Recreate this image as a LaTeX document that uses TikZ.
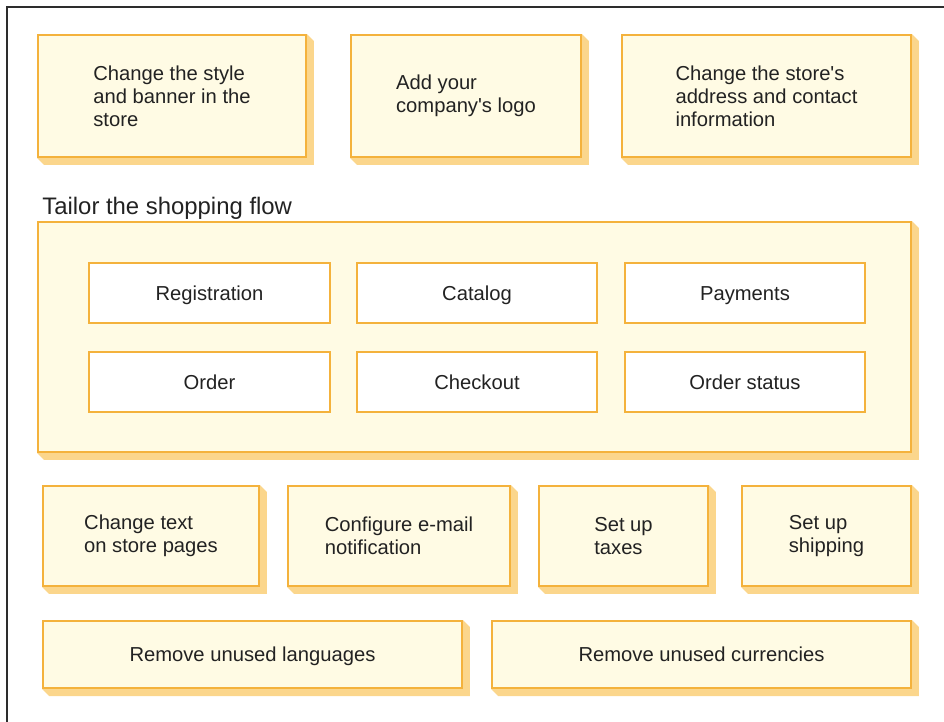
\documentclass[tikz,border=0pt]{standalone}
\usepackage{fontspec}
\setmainfont{Liberation Sans}
\usetikzlibrary{backgrounds}

\definecolor{cardline}{RGB}{244,178,60}
\definecolor{cardfill}{RGB}{255,251,228}
\definecolor{cardshade}{RGB}{251,214,140}
\definecolor{frameline}{RGB}{45,45,45}
\definecolor{inkgray}{RGB}{34,34,34}

\tikzset{
  card/.style={draw=cardline, fill=cardfill, line width=0.04cm, inner sep=0pt,
    align=left, text=inkgray, font=\fontsize{11.5}{13.1}\selectfont},
  oneline/.style={text height=10pt, text depth=1.9pt},
  flowstep/.style={card, oneline, fill=white, align=center,
    minimum width=4.82cm, minimum height=1.2cm},
  cardshadow/.style={fill=cardshade},
}

\begin{document}
\begin{tikzpicture}[x=0.02cm, y=-0.02cm]
  \useasboundingbox (0,0) rectangle (944,721);
  \clip (0,0) rectangle (944,721);

  % Drawing outer frame
  \draw [frameline, line width=0.04cm] (7,780) -- (7,7) -- (990,7);

  % Drawing top row
  \node [card, minimum width=5.36cm, minimum height=2.44cm] (style) at (172,96)
    {Change the style\\and banner in the\\store};
  \node [card, minimum width=4.60cm, minimum height=2.44cm] (logo) at (466,96)
    {Add your\\company\textquotesingle s logo};
  \node [card, minimum width=5.78cm, minimum height=2.44cm] (address) at (766.5,96)
    {Change the store\textquotesingle s\\address and contact\\information};

  % Drawing shopping flow
  \node [anchor=base west, inner sep=0pt, text=inkgray,
    font=\fontsize{13.6}{16}\selectfont] (flowlabel) at (42,214)
    {Tailor the shopping flow};
  \node [card, minimum width=17.46cm, minimum height=4.6cm] (flow) at (474.5,337) {};
  \node [flowstep] (registration) at (209.5,293) {Registration};
  \node [flowstep] (catalog) at (477,293) {Catalog};
  \node [flowstep] (payments) at (745,293) {Payments};
  \node [flowstep] (order) at (209.5,382) {Order};
  \node [flowstep] (checkout) at (477,382) {Checkout};
  \node [flowstep] (orderstatus) at (745,382) {Order status};

  % Drawing third row
  \node [card, minimum width=4.32cm, minimum height=2cm] (pagetext) at (151,536)
    {Change text\\on store pages};
  \node [card, minimum width=4.44cm, minimum height=2cm] (email) at (399,536)
    {Configure e-mail\\notification};
  \node [card, minimum width=3.38cm, minimum height=2cm] (taxes) at (623.5,536)
    {Set up\\taxes};
  \node [card, minimum width=3.38cm, minimum height=2cm] (shipping) at (826.5,536)
    {Set up\\shipping};

  % Drawing bottom row
  \node [card, oneline, minimum width=8.38cm, minimum height=1.34cm] (languages) at (252.5,654.5)
    {Remove unused languages};
  \node [card, oneline, minimum width=8.38cm, minimum height=1.34cm] (currencies) at (701.5,654.5)
    {Remove unused currencies};

  % Drawing shadows
  \begin{scope}[on background layer]
    \foreach \n in {style,logo,address,flow,pagetext,email,taxes,shipping,languages,currencies}
      \fill [cardshadow] (\n.north east) -- ++(7,7) -- ([shift={(7,7)}]\n.south east)
        -- ([shift={(7,7)}]\n.south west) -- (\n.south west) -- cycle;
  \end{scope}
\end{tikzpicture}
\end{document}
